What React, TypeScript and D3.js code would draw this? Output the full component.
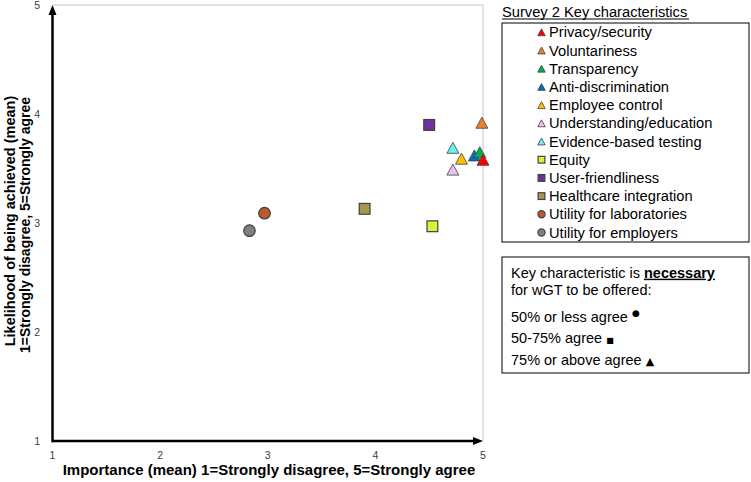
import React from "react";
import * as d3 from "d3";

const names = [
  "Privacy/security",
  "Voluntariness",
  "Transparency",
  "Anti-discrimination",
  "Employee control",
  "Understanding/education",
  "Evidence-based testing",
  "Equity",
  "User-friendliness",
  "Healthcare integration",
  "Utility for laboratories",
  "Utility for employers",
];
const importance = [5.0, 4.99, 4.97, 4.92, 4.8, 4.72, 4.72, 4.53, 4.5, 3.9, 2.97, 2.83];
const likelihood = [3.58, 3.92, 3.65, 3.62, 3.59, 3.49, 3.69, 2.97, 3.9, 3.13, 3.09, 2.93];
const shapes = ["tri", "tri", "tri", "tri", "tri", "tri", "tri", "sq", "sq", "sq", "ci", "ci"];
const colors = [
  "#FF0000",
  "#ED7D31",
  "#00B050",
  "#0070C0",
  "#FFC000",
  "#E9C3EC",
  "#6CF0F0",
  "#D4F53C",
  "#7030A0",
  "#A8964F",
  "#B85A2E",
  "#808080",
];
const ticks = [1, 2, 3, 4, 5];

const FONT = "'Liberation Sans', Arial, sans-serif";

function Marker({ shape, x, y, size, fill }: { shape: string; x: number; y: number; size: number; fill: string }) {
  const stroke = "#404040";
  if (shape === "tri") {
    const w = size;
    const h = size * 0.92;
    const pts = `${x},${y - h / 2} ${x + w / 2},${y + h / 2} ${x - w / 2},${y + h / 2}`;
    return <polygon points={pts} fill={fill} stroke={stroke} strokeWidth={0.8} />;
  }
  if (shape === "sq") {
    const s = size * 0.9;
    return <rect x={x - s / 2} y={y - s / 2} width={s} height={s} fill={fill} stroke={stroke} strokeWidth={1.2} />;
  }
  return <circle cx={x} cy={y} r={size * 0.48} fill={fill} stroke={stroke} strokeWidth={1.2} />;
}

export default function App() {
  const W = 751;
  const H = 482;
  const x = d3.scaleLinear().domain([1, 5]).range([52.5, 483]);
  const y = d3.scaleLinear().domain([1, 5]).range([441, 5]);
  const order = d3.range(names.length).reverse();

  const legX = 541.5;
  const legY0 = 32.3;
  const legDy = 18.2;

  return (
    <svg width={W} height={H} style={{ position: "absolute", left: 0, top: 0 }} fontFamily={FONT}>
      <rect width={W} height={H} fill="#fff" />
      {/* light frame */}
      <line x1={x(1)} x2={x(5)} y1={y(5)} y2={y(5)} stroke="#d9d9d9" strokeWidth={1.5} />
      <line x1={x(5)} x2={x(5)} y1={y(5)} y2={y(1)} stroke="#d9d9d9" strokeWidth={1.5} />
      {/* axes */}
      <line x1={x(1)} x2={x(5) - 8} y1={y(1)} y2={y(1)} stroke="#000" strokeWidth={2.5} />
      <polygon points={`${x(5)},${y(1)} ${x(5) - 10},${y(1) - 4} ${x(5) - 10},${y(1) + 4}`} fill="#000" />
      <line x1={x(1)} x2={x(1)} y1={y(1) + 1.25} y2={y(5) + 8} stroke="#000" strokeWidth={2.5} />
      <polygon points={`${x(1)},${y(5)} ${x(1) - 4},${y(5) + 10} ${x(1) + 4},${y(5) + 10}`} fill="#000" />
      {/* tick labels */}
      {ticks.map((t) => (
        <text key={"x" + t} x={x(t)} y={458.5} textAnchor="middle" fontSize={10.5} fill="#404040">
          {t}
        </text>
      ))}
      {ticks.map((t) => (
        <text key={"y" + t} x={40} y={y(t) + 4} textAnchor="end" fontSize={10.5} fill="#404040">
          {t}
        </text>
      ))}
      {/* axis titles */}
      <text x={269} y={475} textAnchor="middle" fontSize={15} fontWeight="bold" fill="#000">
        Importance (mean) 1=Strongly disagree, 5=Strongly agree
      </text>
      <text transform="translate(15,221) rotate(-90)" textAnchor="middle" fontSize={14.5} fontWeight="bold" fill="#000">
        Likelihood of being achieved (mean)
      </text>
      <text transform="translate(30,225) rotate(-90)" textAnchor="middle" fontSize={14} fontWeight="bold" fill="#000">
        1=Strongly disagree, 5=Strongly agree
      </text>
      {/* points */}
      {order.map((i) => (
        <Marker key={i} shape={shapes[i]} x={x(importance[i])} y={y(likelihood[i])} size={12} fill={colors[i]} />
      ))}
      {/* legend 1 */}
      <text x={502} y={16.7} fontSize={14.7} fill="#000">
        Survey 2 Key characteristics
      </text>
      <line x1={502} x2={689} y1={19} y2={19} stroke="#000" strokeWidth={1} />
      <rect x={502} y={23} width={247} height={219} fill="none" stroke="#000" strokeWidth={1} />
      {names.map((n, i) => (
        <g key={n}>
          <Marker shape={shapes[i]} x={legX} y={legY0 + i * legDy} size={7.5} fill={colors[i]} />
          <text x={549} y={legY0 + i * legDy + 5} fontSize={14.7} fill="#000">
            {n}
          </text>
        </g>
      ))}
      {/* legend 2 */}
      <rect x={502} y={257} width={247} height={116} fill="none" stroke="#000" strokeWidth={1} />
      <text x={511} y={277.7} fontSize={14.5} fill="#000">
        Key characteristic is <tspan fontWeight="bold" textDecoration="underline">necessary</tspan>
      </text>
      <text x={511} y={294.5} fontSize={14.5} fill="#000">
        for wGT to be offered:
      </text>
      <text x={511} y={321.7} fontSize={14.5} fill="#000">
        50% or less agree{" "}
        <tspan fontSize={9} dy={-6} fontFamily="'DejaVu Sans', sans-serif">
          ●
        </tspan>
      </text>
      <text x={511} y={343.3} fontSize={14.5} fill="#000">
        50-75% agree{" "}
        <tspan fontSize={8} fontFamily="'DejaVu Sans', sans-serif">
          ■
        </tspan>
      </text>
      <text x={511} y={365} fontSize={14.5} fill="#000">
        75% or above agree{" "}
        <tspan fontSize={11} fontFamily="'DejaVu Sans', sans-serif">
          ▲
        </tspan>
      </text>
    </svg>
  );
}
